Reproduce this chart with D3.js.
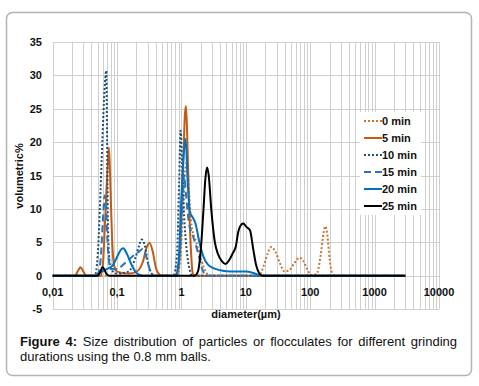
<!DOCTYPE html>
<html>
<head>
<meta charset="utf-8">
<script src="https://cdn.jsdelivr.net/npm/d3@7"></script>
<style>
  body { margin: 0; background: #fff; }
  #chart { position: relative; width: 479px; height: 386px; }
  .cap { position: absolute; left: 20px; width: 437px; font: 13px "Liberation Sans", Arial, sans-serif; color: #111; }
  .cap1 { top: 334px; text-align: justify; text-align-last: justify; }
  .cap2 { top: 349px; }
</style>
</head>
<body>
<div id="chart"></div>
<script>
// diameter (µm) / volumetric % pairs
const min0 = [[0.01,0],[0.85,0],[0.95,2],[1.05,9],[1.15,16],[1.22,17],[1.32,12],[1.44,7.4],[1.7,5],[2.0,2.5],[2.45,0.4],[2.7,0],
  [16,0],[19,1.5],[22,3.4],[25,4.3],[29,3.5],[34,1.8],[40,0.6],[47,0.8],[56,1.8],[68,2.7],[78,2.2],[90,0.9],[105,0.1],
  [125,0.2],[145,3],[162,6.5],[172,7.4],[185,6],[200,2.5],[220,0.3],[240,0],[3000,0]];
const min5 = [[0.01,0],[0.022,0],[0.025,0.8],[0.027,1.25],[0.03,0.6],[0.033,0],[0.055,0],[0.06,1.5],[0.065,8],[0.071,16],
  [0.075,19.2],[0.079,13],[0.084,5],[0.09,1.5],[0.1,0.6],[0.15,0.3],[0.2,0.6],[0.25,2],[0.29,4.3],[0.32,4.9],[0.36,3.5],
  [0.4,1.2],[0.45,0.2],[0.5,0],[0.85,0],[0.95,4],[1.05,15],[1.13,24],[1.17,25.4],[1.22,22],[1.3,12],[1.4,4],[1.5,0.3],[1.6,0],[3000,0]];
const min10 = [[0.01,0],[0.045,0],[0.05,3],[0.054,10],[0.059,20],[0.064,28],[0.068,30.7],[0.070,20],[0.0715,10],[0.075,3],
  [0.08,1],[0.1,0.3],[0.15,0.6],[0.19,2.5],[0.22,4.5],[0.24,5.4],[0.27,4.5],[0.3,2],[0.34,0.4],[0.38,0],[0.75,0],[0.85,3],
  [0.92,14],[0.97,21.7],[1.02,17],[1.1,9],[1.2,4],[1.35,0.8],[1.45,0],[3000,0]];
const min15 = [[0.01,0],[0.048,0],[0.055,2],[0.06,8],[0.064,12],[0.068,9],[0.072,4],[0.08,1],[0.1,1],[0.13,1.8],[0.17,2.8],
  [0.22,3.6],[0.25,4],[0.28,3],[0.32,1],[0.38,0],[0.85,0],[0.95,4],[1.05,12],[1.1,15],[1.18,12],[1.3,8],[1.5,6],[1.8,3.5],
  [2.1,1],[2.4,0],[3000,0]];
const min20 = [[0.01,0],[0.045,0],[0.055,0.5],[0.07,1],[0.085,1.5],[0.1,2.8],[0.115,3.9],[0.125,4.1],[0.14,3.4],[0.17,1.5],
  [0.2,0.4],[0.25,0],[0.8,0],[0.9,2],[1.0,12],[1.1,19],[1.16,20.5],[1.25,14],[1.35,9.5],[1.5,8.7],[1.65,7.8],[1.9,5],
  [2.2,2.8],[2.6,1.6],[3,1.2],[4,0.8],[6,0.6],[10,0.6],[13,0.4],[16,0.1],[20,0],[3000,0]];
const min25 = [[0.01,0],[0.05,0],[0.055,0.6],[0.059,1.25],[0.063,1],[0.068,0.3],[0.075,0],[1.6,0],[1.8,0.6],[2.0,4],[2.2,10],
  [2.35,14.5],[2.5,16.2],[2.65,15],[2.9,10],[3.3,5],[3.7,3.2],[4.2,2.2],[4.85,1.75],[5.5,2.3],[6.3,3.4],[7,4.4],[7.6,6.5],
  [8.3,7.5],[9.1,7.8],[10.2,7.3],[11.6,6.8],[13,4],[14.5,1.5],[16,0.4],[18,0],[3000,0]];

const seriesNames = ["0 min", "5 min", "10 min", "15 min", "20 min", "25 min"];
const seriesData = [min0, min5, min10, min15, min20, min25];
const xTicks = [0.01, 0.1, 1, 10, 100, 1000, 10000];
const xTickLabels = ["0,01", "0,1", "1", "10", "100", "1000", "10000"];
const yTicks = [-5, 0, 5, 10, 15, 20, 25, 30, 35];

const styles = [
  { color: "#CB7434", dash: "2,2" },
  { color: "#C55A11", dash: null },
  { color: "#1F4E79", dash: "2,2" },
  { color: "#2E75B6", dash: "7,4" },
  { color: "#0070C0", dash: null },
  { color: "#000000", dash: null }
];

const width = 479, height = 386;
const svg = d3.select("#chart").append("svg")
  .attr("width", width).attr("height", height)
  .style("position", "absolute").style("left", 0).style("top", 0);

// frame
svg.append("rect")
  .attr("x", 6.5).attr("y", 12.5).attr("width", 465).attr("height", 363)
  .attr("rx", 6).attr("fill", "#fff").attr("stroke", "#b4b4b4").attr("stroke-width", 1.5);

const x = d3.scaleLog().domain([0.01, 10000]).range([52.7, 439]);
const y = d3.scaleLinear().domain([-5, 35]).range([309, 42]);

const grid = svg.append("g").attr("stroke", "#cfcfcf").attr("stroke-width", 1);
// vertical grid, including minor log steps
const vLines = [];
for (let e = -2; e < 4; e++) {
  for (let m = 1; m < 10; m++) vLines.push(m * Math.pow(10, e));
}
vLines.push(10000);
grid.selectAll(".v").data(vLines).enter().append("line")
  .attr("x1", d => Math.round(x(d)) + 0.5).attr("x2", d => Math.round(x(d)) + 0.5)
  .attr("y1", y(35)).attr("y2", y(-5));
grid.selectAll(".h").data(yTicks).enter().append("line")
  .attr("x1", x(0.01)).attr("x2", x(10000))
  .attr("y1", d => Math.round(y(d)) + 0.5).attr("y2", d => Math.round(y(d)) + 0.5);

const font = '"Liberation Sans", Arial, sans-serif';

// y tick labels
svg.append("g").selectAll("text").data(yTicks).enter().append("text")
  .attr("x", 42).attr("y", d => y(d) + 4)
  .attr("text-anchor", "end")
  .style("font", "bold 11px " + font).attr("fill", "#111")
  .text(d => d);

// x tick labels
svg.append("g").selectAll("text").data(xTicks).enter().append("text")
  .attr("x", d => x(d)).attr("y", 296)
  .attr("text-anchor", "middle")
  .style("font", "bold 11px " + font).attr("fill", "#111")
  .text((d, i) => xTickLabels[i]);

// axis titles
svg.append("text")
  .attr("transform", "translate(23,176) rotate(-90)")
  .attr("text-anchor", "middle")
  .style("font", "bold 11px " + font).attr("fill", "#111")
  .text("volumetric%");
svg.append("text")
  .attr("x", 246).attr("y", 318)
  .attr("text-anchor", "middle")
  .style("font", "bold 11px " + font).attr("fill", "#111")
  .text("diameter(µm)");

// series
const line = d3.line()
  .x(d => x(d[0]))
  .y(d => y(d[1]))
  .curve(d3.curveMonotoneX);

svg.append("g").selectAll("path").data(seriesData).enter().append("path")
  .attr("d", line)
  .attr("fill", "none")
  .attr("stroke", (d, i) => styles[i].color)
  .attr("stroke-width", 2)
  .attr("stroke-dasharray", (d, i) => styles[i].dash);

// legend
const legend = svg.append("g");
legend.append("rect")
  .attr("x", 360).attr("y", 112).attr("width", 61).attr("height", 103)
  .attr("fill", "#fff");
const item = legend.selectAll(".item").data(seriesNames).enter().append("g")
  .attr("transform", (d, i) => "translate(0," + (121 + i * 17) + ")");
item.append("line")
  .attr("x1", 364).attr("x2", 382).attr("y1", 0).attr("y2", 0)
  .attr("stroke", (d, i) => styles[i].color)
  .attr("stroke-width", 2)
  .attr("stroke-dasharray", (d, i) => styles[i].dash);
item.append("text")
  .attr("x", 382).attr("y", 4)
  .style("font", "bold 11px " + font).attr("fill", "#111")
  .text(d => d);

// caption
const chart = d3.select("#chart");
chart.append("div").attr("class", "cap cap1")
  .html("<b>Figure 4:</b> Size distribution of particles or flocculates for different grinding");
chart.append("div").attr("class", "cap cap2")
  .text("durations using the 0.8 mm balls.");
</script>
</body>
</html>
